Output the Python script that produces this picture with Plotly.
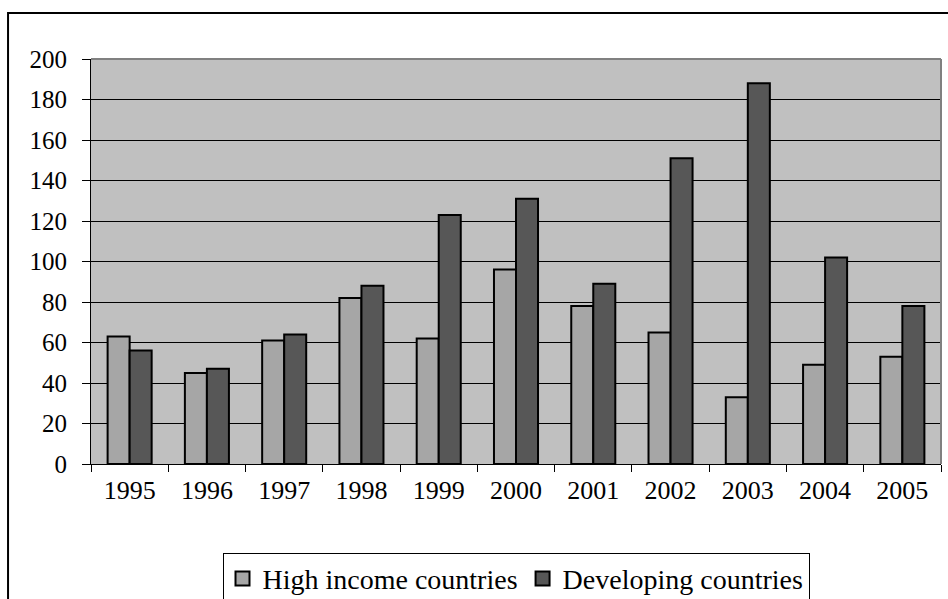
import plotly.graph_objects as go

years = ["1995", "1996", "1997", "1998", "1999", "2000",
         "2001", "2002", "2003", "2004", "2005"]
high_income = [63, 45, 61, 82, 62, 96, 78, 65, 33, 49, 53]
developing = [56, 47, 64, 88, 123, 131, 89, 151, 188, 102, 78]
y_ticks = [0, 20, 40, 60, 80, 100, 120, 140, 160, 180, 200]

series = [
    ("High income countries", high_income, "#a6a6a6"),
    ("Developing countries", developing, "#575757"),
]

FONT = "Liberation Serif"

fig = go.Figure()
for name, values, color in series:
    fig.add_trace(go.Bar(
        x=years, y=values, name=name, legendgroup=name, showlegend=False,
        marker=dict(color=color, line=dict(color="black", width=2)),
    ))
# larger square keys for the legend
for name, values, color in series:
    fig.add_trace(go.Scatter(
        x=[None], y=[None], mode="markers", name=name, legendgroup=name,
        marker=dict(symbol="square", size=14, color=color,
                    line=dict(color="black", width=2)),
    ))

fig.update_layout(
    width=948, height=599,
    margin=dict(l=91, r=7, t=59, b=135, autoexpand=False),
    paper_bgcolor="white",
    plot_bgcolor="#c0c0c0",
    barmode="group",
    bargap=0.43,
    bargroupgap=0,
    font=dict(family=FONT, color="black", size=25),
    showlegend=True,
    legend=dict(
        orientation="h",
        xref="paper", x=0.5, xanchor="center",
        yref="container", y=0.077, yanchor="top",
        bgcolor="white",
        bordercolor="black",
        borderwidth=1,
        itemsizing="trace",
        font=dict(family=FONT, size=28, color="black"),
        itemclick=False,
        itemdoubleclick=False,
    ),
    xaxis=dict(
        type="category",
        tickson="boundaries",
        ticks="outside", ticklen=7, tickcolor="black", tickwidth=1,
        showline=True, linecolor="black", linewidth=1,
        showgrid=False,
        ticklabelstandoff=3,
        tickfont=dict(family=FONT, size=26, color="black"),
    ),
    yaxis=dict(
        range=[0, 200],
        tickvals=y_ticks,
        ticks="outside", ticklen=8, tickcolor="black", tickwidth=1,
        showline=True, linecolor="black", linewidth=1,
        showgrid=True, gridcolor="black", gridwidth=1,
        zeroline=False,
        ticklabelstandoff=10,
        tickfont=dict(family=FONT, size=25, color="black"),
    ),
    shapes=[
        # gray frame on top and right of the plotting area
        dict(type="line", xref="paper", yref="paper", x0=0, x1=1, y0=1, y1=1,
             line=dict(color="#808080", width=2), layer="above"),
        dict(type="line", xref="paper", yref="paper", x0=1, x1=1, y0=0, y1=1,
             line=dict(color="#808080", width=2), layer="above"),
        # outer chart border
        dict(type="rect", xref="paper", yref="paper",
             x0=-0.0976, x1=1.2, y0=-0.6, y1=1.1136,
             line=dict(color="black", width=2), fillcolor="rgba(0,0,0,0)",
             layer="below"),
    ],
)

fig.write_html("out.html")
